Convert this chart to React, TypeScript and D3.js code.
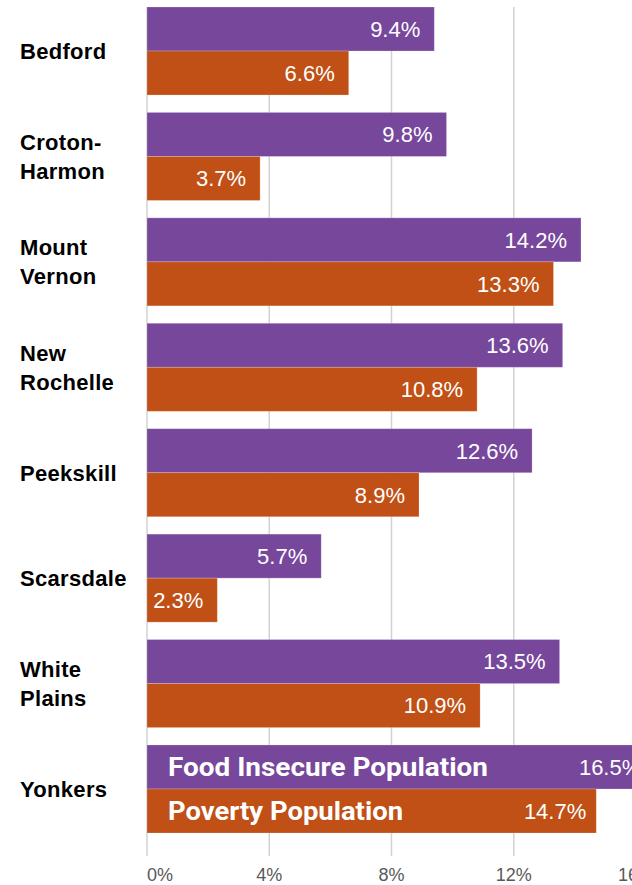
import React, { useEffect, useRef } from 'react';
import * as d3 from 'd3';

const categories = ['Bedford', 'Croton-Harmon', 'Mount Vernon', 'New Rochelle', 'Peekskill', 'Scarsdale', 'White Plains', 'Yonkers'];
const categoryLines = [['Bedford'], ['Croton-', 'Harmon'], ['Mount', 'Vernon'], ['New', 'Rochelle'], ['Peekskill'], ['Scarsdale'], ['White', 'Plains'], ['Yonkers']];
const seriesNames = ['Food Insecure Population', 'Poverty Population'];
const foodInsecure = [9.4, 9.8, 14.2, 13.6, 12.6, 5.7, 13.5, 16.5];
const poverty = [6.6, 3.7, 13.3, 10.8, 8.9, 2.3, 10.9, 14.7];
const ticks = [0, 4, 8, 12, 16];
const colors = ['#77479C', '#C05016'];

const W = 632;
const H = 885;

export default function App() {
  const svgRef = useRef<SVGSVGElement | null>(null);

  useEffect(() => {
    const svg = d3.select(svgRef.current);
    svg.selectAll('*').remove();

    const x = d3.scaleLinear().domain([0, 16]).range([147, 636]);
    const y = d3.scaleBand<string>()
      .domain(categories)
      .range([7, 833])
      .paddingInner(0.165)
      .paddingOuter(0);
    const sub = d3.scaleBand<number>().domain([0, 1]).range([0, y.bandwidth()]);

    // gridlines
    svg.append('g')
      .selectAll('line')
      .data(ticks)
      .enter()
      .append('line')
      .attr('x1', d => x(d))
      .attr('x2', d => x(d))
      .attr('y1', 7)
      .attr('y2', 856)
      .attr('stroke', '#D2D2D2')
      .attr('stroke-width', 1.5);

    // tick labels
    svg.append('g')
      .selectAll('text')
      .data(ticks)
      .enter()
      .append('text')
      .attr('x', d => x(d))
      .attr('y', 881)
      .attr('text-anchor', d => (d === 0 ? 'start' : 'middle'))
      .attr('font-family', 'Liberation Sans, Arial, sans-serif')
      .attr('font-size', 18)
      .attr('fill', '#595959')
      .text(d => `${d}%`);

    const series = [foodInsecure, poverty];

    series.forEach((vals, si) => {
      const g = svg.append('g');
      g.selectAll('rect')
        .data(vals)
        .enter()
        .append('rect')
        .attr('x', x(0))
        .attr('y', (d, i) => (y(categories[i]) ?? 0) + (sub(si) ?? 0))
        .attr('width', d => x(d) - x(0))
        .attr('height', sub.bandwidth())
        .attr('fill', colors[si])
        .attr('stroke', '#ffffff')
        .attr('stroke-opacity', 0.25)
        .attr('stroke-width', 0.8);

      g.selectAll('text.value')
        .data(vals)
        .enter()
        .append('text')
        .attr('class', 'value')
        .attr('x', (d, i) => x(d) - (i === categories.length - 1 ? 10 : 14))
        .attr('y', (d, i) => (y(categories[i]) ?? 0) + (sub(si) ?? 0) + sub.bandwidth() / 2)
        .attr('dy', '0.36em')
        .attr('text-anchor', 'end')
        .attr('font-family', 'Liberation Sans, Arial, sans-serif')
        .attr('font-size', 22)
        .attr('fill', '#ffffff')
        .text(d => `${d.toFixed(1)}%`);
    });

    // series names inside the last category's bars
    const last = categories[categories.length - 1];
    svg.append('g')
      .selectAll('text')
      .data(seriesNames)
      .enter()
      .append('text')
      .attr('x', 168)
      .attr('y', (d, i) => (y(last) ?? 0) + (sub(i) ?? 0) + sub.bandwidth() / 2)
      .attr('dy', '0.36em')
      .attr('font-family', 'Roboto, sans-serif')
      .attr('font-weight', 700)
      .attr('font-size', 25)
      .attr('fill', '#ffffff')
      .attr('textLength', (d, i) => (i === 0 ? 320 : 235))
      .attr('lengthAdjust', 'spacingAndGlyphs')
      .text(d => d);

    // category labels
    const lineH = 29;
    const labels = svg.append('g')
      .selectAll('text')
      .data(categories)
      .enter()
      .append('text')
      .attr('font-family', 'Liberation Sans, Arial, sans-serif')
      .attr('font-weight', 700)
      .attr('font-size', 22)
      .attr('letter-spacing', 0.3)
      .attr('fill', '#000000');

    labels.each(function (d, i) {
      const lines = categoryLines[i];
      const cy = (y(d) ?? 0) + y.bandwidth() / 2;
      const top = cy - ((lines.length - 1) * lineH) / 2;
      d3.select(this)
        .selectAll('tspan')
        .data(lines)
        .enter()
        .append('tspan')
        .attr('x', 20)
        .attr('y', (l, j) => top + j * lineH)
        .attr('dy', '0.36em')
        .text(l => l);
    });
  }, []);

  return (
    <svg
      ref={svgRef}
      width={W}
      height={H}
      style={{ position: 'absolute', left: 0, top: 0, background: '#ffffff' }}
    />
  );
}
